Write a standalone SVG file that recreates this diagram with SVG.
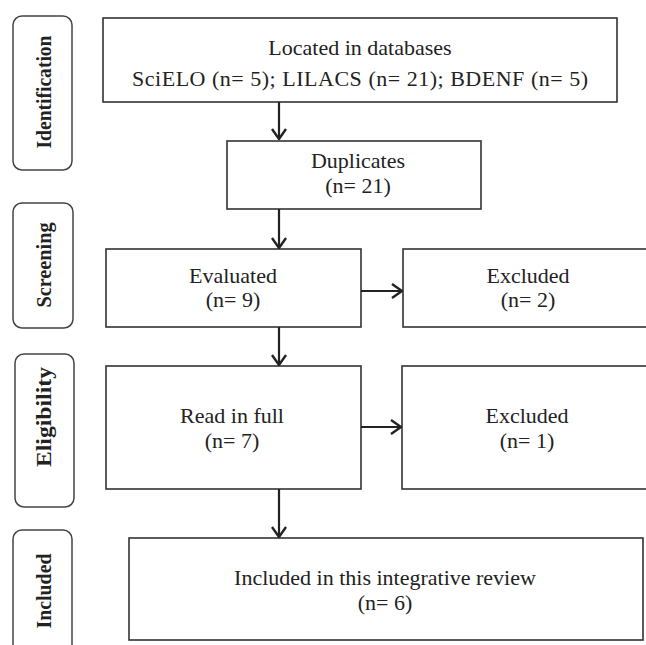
<svg xmlns="http://www.w3.org/2000/svg" width="646" height="645" viewBox="0 0 646 645">
<style>
.box{fill:#fff;stroke:#333;stroke-width:1.6}
.side{fill:#fff;stroke:#444;stroke-width:1.5}
.t{font-family:"Liberation Serif","Times New Roman",serif;font-size:22px;fill:#222;text-anchor:middle}
.s{font-family:"Liberation Serif","Times New Roman",serif;font-size:22px;font-weight:bold;fill:#222;text-anchor:middle}
.c{stroke:#222;stroke-width:2.2;fill:none}
</style>
<defs>
<marker id="ah" viewBox="0 0 12 16" refX="11" refY="8" markerWidth="12" markerHeight="16" markerUnits="userSpaceOnUse" orient="auto">
<path d="M1,1 L11,8 L1,15" fill="none" stroke="#222" stroke-width="2.4"/>
</marker>
</defs>
<rect width="646" height="645" fill="#fff"/>
<g id="stage-identification"><rect class="side" x="13" y="16" width="59" height="154" rx="9"/><text class="s" transform="translate(51,92) rotate(-90)" textLength="113" lengthAdjust="spacingAndGlyphs">Identification</text></g>
<g id="stage-screening"><rect class="side" x="13" y="203" width="60" height="125" rx="9"/><text class="s" transform="translate(51,265) rotate(-90)" textLength="85" lengthAdjust="spacingAndGlyphs">Screening</text></g>
<g id="stage-eligibility"><rect class="side" x="15" y="354" width="59" height="153" rx="9"/><text class="s" transform="translate(51,417) rotate(-90)" textLength="100" lengthAdjust="spacingAndGlyphs">Eligibility</text></g>
<g id="stage-included"><rect class="side" x="13" y="530" width="59" height="130" rx="9"/><text class="s" transform="translate(51,591) rotate(-90)" textLength="75" lengthAdjust="spacingAndGlyphs">Included</text></g>
<g id="located"><rect class="box" x="103" y="18" width="514" height="84"/><text class="t" x="360" y="55">Located in databases</text><text class="t" x="360" y="86" textLength="456">SciELO (n= 5); LILACS (n= 21); BDENF (n= 5)</text></g>
<g id="duplicates"><rect class="box" x="227" y="141" width="254" height="68"/><text class="t" x="358" y="168">Duplicates</text><text class="t" x="358" y="193">(n= 21)</text></g>
<g id="evaluated"><rect class="box" x="106" y="249" width="255" height="78"/><text class="t" x="233" y="283">Evaluated</text><text class="t" x="233" y="307">(n= 9)</text></g>
<g id="excluded1"><rect class="box" x="403" y="249" width="250" height="78"/><text class="t" x="528" y="283">Excluded</text><text class="t" x="528" y="307">(n= 2)</text></g>
<g id="readfull"><rect class="box" x="106" y="366" width="255" height="123"/><text class="t" x="232" y="423">Read in full</text><text class="t" x="232" y="448">(n= 7)</text></g>
<g id="excluded2"><rect class="box" x="402" y="366" width="250" height="123"/><text class="t" x="527" y="423">Excluded</text><text class="t" x="527" y="448">(n= 1)</text></g>
<g id="included"><rect class="box" x="129" y="538" width="514" height="102"/><text class="t" x="385" y="585">Included in this integrative review</text><text class="t" x="385" y="610">(n= 6)</text></g>
<g id="connectors">
<line class="c" x1="279" y1="102" x2="279" y2="139" marker-end="url(#ah)"/>
<line class="c" x1="279" y1="209" x2="279" y2="248" marker-end="url(#ah)"/>
<line class="c" x1="279" y1="327" x2="279" y2="365" marker-end="url(#ah)"/>
<line class="c" x1="279" y1="489" x2="279" y2="537" marker-end="url(#ah)"/>
<line class="c" x1="361" y1="291" x2="402" y2="291" marker-end="url(#ah)"/>
<line class="c" x1="361" y1="427" x2="401" y2="427" marker-end="url(#ah)"/>
</g>
</svg>
